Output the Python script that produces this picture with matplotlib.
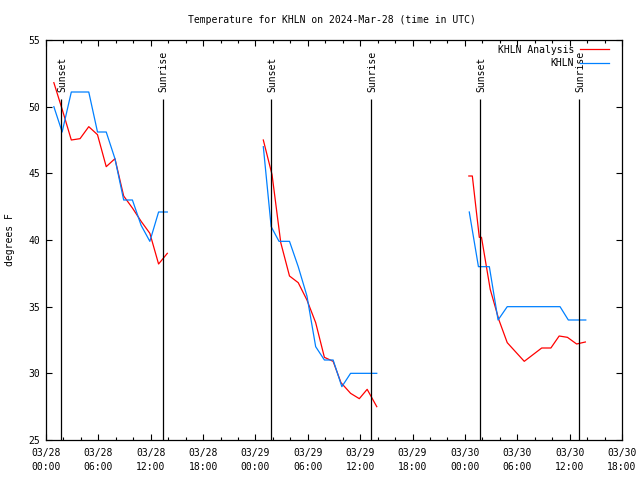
import matplotlib
matplotlib.use("Agg")
import matplotlib.pyplot as plt
from matplotlib.ticker import MultipleLocator

plt.rcParams['font.family'] = ['DejaVu Sans Mono']
plt.rcParams['font.size'] = 7

# hours since 2024-03-28 00:00 UTC
analysis_t1 = [0.9, 1.9, 2.9, 3.9, 4.9, 5.9, 6.9, 7.9, 8.9, 9.9, 10.9, 11.9, 12.9, 13.9]
analysis_v1 = [51.8, 49.7, 47.5, 47.6, 48.5, 47.9, 45.5, 46.1, 43.3, 42.4, 41.4, 40.5, 38.2, 39.0]
analysis_t2 = [24.9, 25.9, 26.9, 27.9, 28.9, 29.9, 30.9, 31.9, 32.9, 33.8, 34.9, 35.9, 36.8, 37.9]
analysis_v2 = [47.5, 44.9, 39.8, 37.3, 36.8, 35.5, 33.8, 31.2, 30.9, 29.3, 28.5, 28.1, 28.8, 27.5]
analysis_t3 = [48.45, 48.85, 49.65, 49.9, 50.9, 51.9, 52.85, 54.8, 56.8, 57.85, 58.8, 59.75, 60.8, 61.8]
analysis_v3 = [44.8, 44.8, 40.2, 40.2, 36.3, 34.0, 32.3, 30.9, 31.9, 31.9, 32.8, 32.7, 32.2, 32.35]

obs_t1 = [0.9, 1.85, 2.9, 3.9, 4.9, 5.9, 6.9, 7.9, 8.9, 9.9, 10.9, 11.9, 12.9, 13.9]
obs_v1 = [50.0, 48.1, 51.1, 51.1, 51.1, 48.1, 48.1, 46.1, 43.0, 43.0, 41.1, 39.9, 42.1, 42.1]
obs_t2 = [24.9, 25.8, 26.7, 27.9, 28.9, 29.9, 30.9, 31.9, 32.9, 33.9, 34.9, 35.9, 36.9, 37.9]
obs_v2 = [47.0, 41.0, 39.9, 39.9, 38.0, 35.8, 32.0, 31.0, 31.0, 29.0, 30.0, 30.0, 30.0, 30.0]
obs_t3 = [48.5, 49.55, 50.8, 51.8, 52.85, 58.9, 59.85, 61.85]
obs_v3 = [42.1, 38.0, 38.0, 34.0, 35.0, 35.0, 34.0, 34.0]

sunset_t = [1.75, 25.8, 49.75]
sunrise_t = [13.35, 37.25, 61.1]

days = ["03/28", "03/29", "03/30"]
tick_hours = ["00:00", "06:00", "12:00", "18:00"]

fig = plt.figure(figsize=(6.4, 4.8), dpi=100)
ax = fig.add_axes([46 / 640, 40 / 480, 576 / 640, 400 / 480])

red = '#ff0000'
blue = '#0080ff'

ax.plot(analysis_t1, analysis_v1, color=red, lw=0.9, label='KHLN Analysis')
ax.plot(analysis_t2, analysis_v2, color=red, lw=0.9)
ax.plot(analysis_t3, analysis_v3, color=red, lw=0.9)
ax.plot(obs_t1, obs_v1, color=blue, lw=0.9, label='KHLN')
ax.plot(obs_t2, obs_v2, color=blue, lw=0.9)
ax.plot(obs_t3, obs_v3, color=blue, lw=0.9)

for t in sunset_t:
    ax.vlines(t, 25, 50.6, color='black', lw=0.9)
    ax.text(t + 0.1, 51.1, "Sunset", rotation=90, ha='center', va='bottom', fontsize=7)
for t in sunrise_t:
    ax.vlines(t, 25, 50.6, color='black', lw=0.9)
    ax.text(t + 0.1, 51.1, "Sunrise", rotation=90, ha='center', va='bottom', fontsize=7)

ax.set_xlim(0, 66)
ax.set_ylim(25, 55)

xt = []
xl = []
for i, d in enumerate(days):
    for j, h in enumerate(tick_hours):
        xt.append(i * 24 + j * 6)
        xl.append(d + "\n" + h)
ax.set_xticks(xt)
ax.set_xticklabels(xl, linespacing=1.5)
ax.xaxis.set_minor_locator(MultipleLocator(2))
ax.set_yticks(range(25, 56, 5))
ax.yaxis.set_minor_locator(MultipleLocator(5))

ax.tick_params(which='major', direction='in', length=4, width=0.8, top=True, right=True, pad=4)
ax.tick_params(axis='x', which='major', pad=6)
ax.tick_params(which='minor', direction='in', length=2, width=0.8, top=True, right=True)
for s in ax.spines.values():
    s.set_linewidth(0.9)

ax.set_ylabel("degrees F", labelpad=10)
fig.text(332 / 640, 1 - 20 / 480, "Temperature for KHLN on 2024-Mar-28 (time in UTC)",
         ha='center', va='center', fontsize=7)

ax.legend(loc='upper right', bbox_to_anchor=(1 - 6 / 576, 1 + 2 / 400), frameon=False,
          markerfirst=False, handlelength=3.0, labelspacing=0.35, borderaxespad=0.3,
          handletextpad=0.6, fontsize=7)

fig.savefig("out.png", dpi=100)
